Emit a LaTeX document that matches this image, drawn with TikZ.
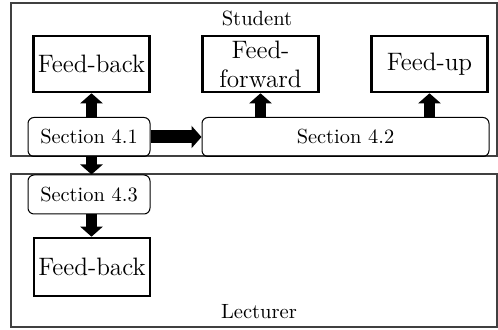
\documentclass[tikz,border=0pt]{standalone}
\usetikzlibrary{arrows.meta}
\begin{document}
\begin{tikzpicture}[x=0.5pt,y=-0.5pt,
  frame/.style={draw=black!75,line width=0.6pt},
  fbox/.style={draw,line width=1.3pt,minimum width=58pt,minimum height=28pt,inner sep=1pt,font=\fontsize{12.6}{14.5}\selectfont,align=center},
  sbox/.style={draw,line width=0.5pt,rounded corners=3pt,minimum height=19.5pt,inner sep=1pt,font=\fontsize{10.2}{12}\selectfont},
  bigarrow/.style={line width=5.5pt,-{Triangle[length=5pt,width=11pt]}},
  lbl/.style={inner sep=0pt,font=\fontsize{10.3}{12}\selectfont}]
\useasboundingbox (0,0) rectangle (498,330);
% frames
\draw[frame] (11,3) rectangle (497,156);
\draw[frame] (11,174) rectangle (497,327);
\node[lbl] (student) at (257,18) {Student};
\node[lbl] (lecturer) at (259,312) {Lecturer};
% feedback boxes
\node[fbox] (fb1) at (91.5,64) {Feed-back};
\node[fbox] (ff) at (260.5,64) {Feed-\\forward};
\node[fbox] (fu) at (429.5,64) {Feed-up};
\node[fbox,minimum height=29pt] (fb2) at (92,267) {Feed-back};
% sections
\node[sbox,minimum width=61pt] (s41) at (89,137) {Section 4.1};
\node[sbox,minimum width=143.5pt] (s42) at (345.5,137) {Section 4.2};
\node[sbox,minimum width=61pt] (s43) at (89,194.5) {Section 4.3};
% arrows
\draw[bigarrow] (s41.north -| fb1) -- (fb1.south);
\draw[bigarrow] (s42.north -| ff) -- (ff.south);
\draw[bigarrow] (s42.north -| fu) -- (fu.south);
\draw[bigarrow,line width=6.5pt] (s41.east) -- (s42.west);
\draw[bigarrow] (s41.south -| fb1) -- (s43.north -| fb1);
\draw[bigarrow] (s43.south -| fb1) -- (fb2.north -| fb1);
\end{tikzpicture}
\end{document}
